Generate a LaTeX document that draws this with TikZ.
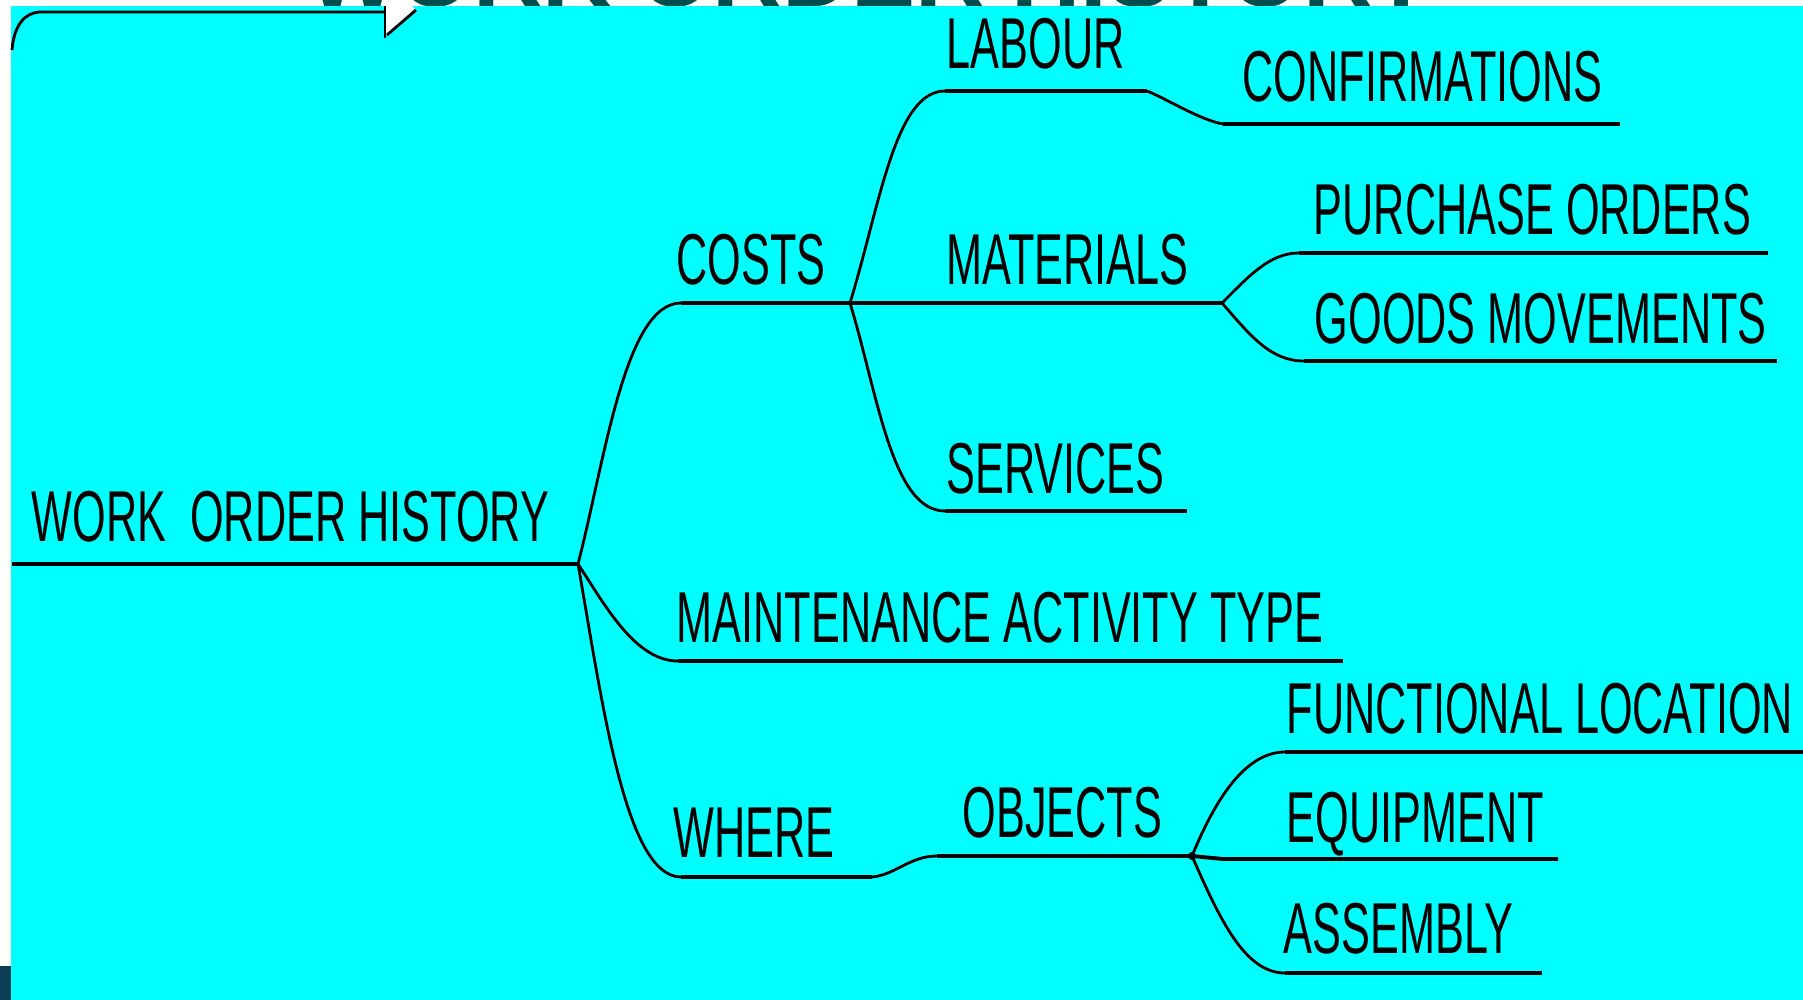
\documentclass[tikz,border=0pt]{standalone}
\usepackage{fontspec}
\newfontfamily\branchfont{Liberation Sans}[FakeStretch=0.6]
\newfontfamily\titlefont{Liberation Sans}
\usepackage{tikz}
\usetikzlibrary{calc}
\usetikzlibrary{positioning}

\definecolor{screen}{RGB}{0,255,255}
\definecolor{titleteal}{RGB}{0,77,77}
\definecolor{cornerteal}{RGB}{10,62,82}

\begin{document}
\begin{tikzpicture}[
    x=0.01cm,
    y=-0.01cm,
    leaf/.style={
        anchor=base west,
        inner sep=0pt,
        font=\branchfont\fontsize{20.5}{24}\selectfont
    },
    headline/.style={
        anchor=base west,
        inner sep=0pt,
        text=titleteal,
        font=\titlefont\bfseries\fontsize{27.3}{30}\selectfont
    },
    rule/.style={line width=1.1pt},
    twig/.style={line width=0.8pt}
]
\useasboundingbox (0,0) rectangle (1803,1000);
\clip (0,0) rectangle (1803,1000);

% Background
\fill[white] (0,0) rectangle (1803,1000);
\node[headline] (title) at (307,6) {WORK ORDER HISTORY};
\fill[screen] (11,6) rectangle (1803,1000);
\fill[cornerteal] (0,966) rectangle (11,1000);

% Callout tail
\fill[white] (385,6) -- (385,36) -- (416,10) -- (412,6) -- cycle;
\draw[twig] (12,50) .. controls (14,25) and (25,12) .. (41,12) -- (385,12);
\draw[twig] (385,6) -- (385,38);
\draw[twig] (387,35) -- (416,10);

% Coordinates
\coordinate (root-w) at (12,564);
\coordinate (root-e) at (578,564);
\coordinate (costs-w) at (681,303);
\coordinate (costs-e) at (850,303);
\coordinate (mat-e) at (1222,303);
\coordinate (labour-w) at (945,91);
\coordinate (labour-e) at (1147,91);
\coordinate (confirm-w) at (1223,124);
\coordinate (confirm-e) at (1620,124);
\coordinate (services-w) at (945,511);
\coordinate (services-e) at (1187,511);
\coordinate (purchase-w) at (1299,253);
\coordinate (purchase-e) at (1768,253);
\coordinate (goods-w) at (1304,361);
\coordinate (goods-e) at (1777,361);
\coordinate (maint-w) at (678,661);
\coordinate (maint-e) at (1343,661);
\coordinate (where-w) at (681,877);
\coordinate (where-e) at (872,877);
\coordinate (objects-w) at (937,856);
\coordinate (objects-e) at (1192,856);
\coordinate (equip-w) at (1223,859);
\coordinate (equip-e) at (1558,859);
\coordinate (func-w) at (1285,752);
\coordinate (func-e) at (1803,752);
\coordinate (assembly-w) at (1285,973);
\coordinate (assembly-e) at (1542,973);

% Nodes
\node[leaf] (root) at (31,541) {WORK\ \ ORDER HISTORY};
\node[leaf] (costs) at (676,284) {COSTS};
\node[leaf] (labour) at (946,68) {LABOUR};
\node[leaf] (confirm) at (1242,101) {CONFIRMATIONS};
\node[leaf] (materials) at (946,284) {MATERIALS};
\node[leaf] (purchase) at (1313,234) {PURCHASE ORDERS};
\node[leaf] (goods) at (1314,343) {GOODS MOVEMENTS};
\node[leaf] (services) at (946,493) {SERVICES};
\node[leaf] (maint) at (676,642) {MAINTENANCE ACTIVITY TYPE};
\node[leaf] (where) at (673,857) {WHERE};
\node[leaf] (objects) at (962,837) {OBJECTS};
\node[leaf] (func) at (1286,733) {FUNCTIONAL LOCATION};
\node[leaf] (equip) at (1286,842) {EQUIPMENT};
\node[leaf] (assembly) at (1283,953) {ASSEMBLY};

% Underlines
\draw[rule] (root-w) -- (root-e);
\draw[rule] (costs-w) -- (costs-e) -- (mat-e);
\draw[rule] (labour-w) -- (labour-e);
\draw[rule] (confirm-w) -- (confirm-e);
\draw[rule] (services-w) -- (services-e);
\draw[rule] (purchase-w) -- (purchase-e);
\draw[rule] (goods-w) -- (goods-e);
\draw[rule] (maint-w) -- (maint-e);
\draw[rule] (where-w) -- (where-e);
\draw[rule] (objects-w) -- (objects-e) -- (equip-w) -- (equip-e);
\draw[rule] (func-w) -- (func-e);
\draw[rule] (assembly-w) -- (assembly-e);

% Branches
\draw[twig] (root-e) .. controls +(27,-104) and +(-56,0) .. (costs-w);
\draw[twig] (root-e) .. controls +(27,41) and +(-43,0) .. (maint-w);
\draw[twig] (root-e) .. controls +(24,136) and +(-56,0) .. (where-w);
\draw[twig] (costs-e) .. controls +(30,-98) and +(-50,0) .. (labour-w);
\draw[twig] (costs-e) .. controls +(28,92) and +(-53,0) .. (services-w);
\draw[twig] (labour-e) .. controls +(18,7) and +(-23,-4) .. (confirm-w);
\draw[twig] (mat-e) .. controls +(28,-28) and +(-29,0) .. (purchase-w);
\draw[twig] (mat-e) .. controls +(28,32) and +(-34,0) .. (goods-w);
\draw[twig] (where-e) .. controls +(23,-2) and +(-27,0) .. (objects-w);
\draw[twig] (objects-e) .. controls +(23,-56) and +(-40,0) .. (func-w);
\draw[twig] (objects-e) .. controls +(28,64) and +(-40,0) .. (assembly-w);
\fill (objects-e) circle (4);

\end{tikzpicture}
\end{document}
